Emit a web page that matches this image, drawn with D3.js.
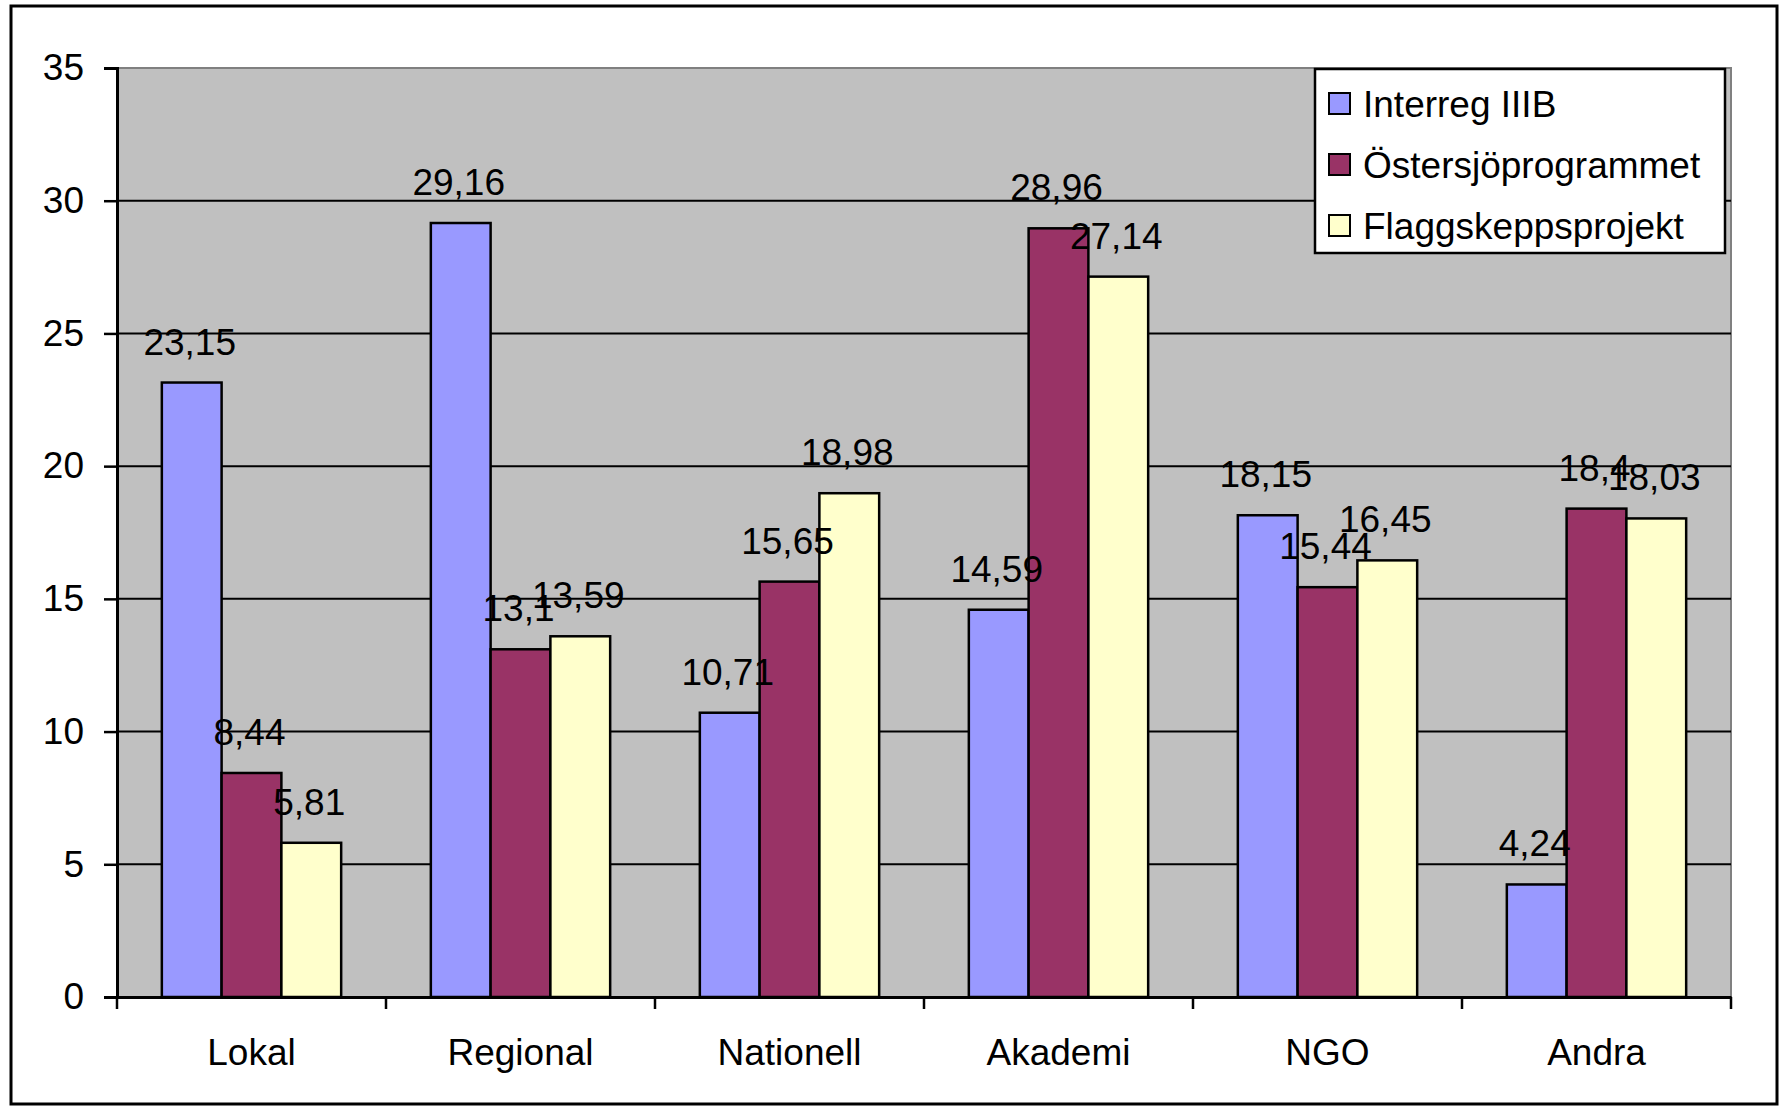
<!DOCTYPE html>
<html>
<head>
<meta charset="utf-8">
<script src="https://cdn.jsdelivr.net/npm/d3@7"></script>
<style>
  body { margin: 0; background: #fff; }
  text { font-family: "Liberation Sans", Arial, sans-serif; fill: #000; }
</style>
</head>
<body>
<div id="chart"></div>
<script>
const categories = ["Lokal", "Regional", "Nationell", "Akademi", "NGO", "Andra"];
const seriesNames = ["Interreg IIIB", "Östersjöprogrammet", "Flaggskeppsprojekt"];
const interreg = [23.15, 29.16, 10.71, 14.59, 18.15, 4.24];
const ostersjo = [8.44, 13.1, 15.65, 28.96, 15.44, 18.4];
const flaggskepp = [5.81, 13.59, 18.98, 27.14, 16.45, 18.03];
const yTicks = [0, 5, 10, 15, 20, 25, 30, 35];
const colors = ["#9999ff", "#993366", "#ffffcc"];

const series = [interreg, ostersjo, flaggskepp];
const W = 1785, H = 1110;
const plot = { left: 117, right: 1731, top: 68, bottom: 997 };
const fontSize = 37;
const fmt = (v) => String(v).replace(".", ",");

const svg = d3.select("#chart").append("svg")
  .attr("width", W).attr("height", H);

// outer frame
svg.append("rect")
  .attr("x", 11).attr("y", 6).attr("width", 1766).attr("height", 1098)
  .attr("fill", "#fff").attr("stroke", "#000").attr("stroke-width", 3);

const x = d3.scaleBand().domain(categories).range([plot.left, plot.right]);
const inner = d3.scaleBand().domain(d3.range(3))
  .range([0, x.bandwidth()]).paddingInner(0).paddingOuter(0.75);
const y = d3.scaleLinear().domain([0, 35]).range([plot.bottom, plot.top]);

// plot background
svg.append("rect")
  .attr("x", plot.left).attr("y", plot.top)
  .attr("width", plot.right - plot.left).attr("height", plot.bottom - plot.top)
  .attr("fill", "#c0c0c0").attr("stroke", "#808080").attr("stroke-width", 2);

// gridlines
svg.append("g").selectAll("line")
  .data(yTicks.filter((t) => t > 0 && t < 35))
  .enter().append("line")
  .attr("x1", plot.left).attr("x2", plot.right)
  .attr("y1", (d) => y(d)).attr("y2", (d) => y(d))
  .attr("stroke", "#000").attr("stroke-width", 2);

// bars
const groups = svg.append("g").selectAll("g")
  .data(categories)
  .enter().append("g")
  .attr("transform", (d) => `translate(${x(d)},0)`);

groups.selectAll("rect")
  .data((d, i) => series.map((s, k) => ({ k, v: s[i] })))
  .enter().append("rect")
  .attr("x", (d) => inner(d.k))
  .attr("width", inner.bandwidth())
  .attr("y", (d) => y(d.v))
  .attr("height", (d) => y(0) - y(d.v))
  .attr("fill", (d) => colors[d.k])
  .attr("stroke", "#000").attr("stroke-width", 2.5);

// data labels
groups.selectAll("text")
  .data((d, i) => series.map((s, k) => ({ k, v: s[i] })))
  .enter().append("text")
  .attr("x", (d) => inner(d.k) + inner.bandwidth() / 2 - 2)
  .attr("y", (d) => y(d.v) - 28)
  .attr("text-anchor", "middle")
  .attr("font-size", fontSize)
  .text((d) => fmt(d.v));

// y axis
const yAxis = svg.append("g")
  .attr("transform", `translate(${plot.left},0)`)
  .call(d3.axisLeft(y).tickValues(yTicks).tickSize(13).tickPadding(20));
yAxis.select(".domain").attr("stroke", "#000").attr("stroke-width", 3);
yAxis.selectAll(".tick line").attr("stroke", "#000").attr("stroke-width", 2.5);
yAxis.selectAll("text").attr("font-size", fontSize)
  .style("font-family", "'Liberation Sans', Arial, sans-serif").attr("fill", "#000");

// x axis
const xAxis = svg.append("g")
  .attr("transform", `translate(0,${plot.bottom})`)
  .call(d3.axisBottom(x).tickSize(0).tickPadding(42).tickSizeOuter(0));
xAxis.select(".domain").attr("stroke", "#000").attr("stroke-width", 3);
xAxis.selectAll("text").attr("font-size", fontSize)
  .style("font-family", "'Liberation Sans', Arial, sans-serif").attr("fill", "#000");
xAxis.append("g").selectAll("line")
  .data(categories.map((c) => x(c)).concat([plot.right]))
  .enter().append("line")
  .attr("x1", (d) => d).attr("x2", (d) => d)
  .attr("y1", 0).attr("y2", 12)
  .attr("stroke", "#000").attr("stroke-width", 2.5);

// legend
const legend = svg.append("g").attr("transform", "translate(1315,69)");
legend.append("rect")
  .attr("width", 410).attr("height", 184)
  .attr("fill", "#fff").attr("stroke", "#000").attr("stroke-width", 2.5);
const rows = legend.selectAll("g.row")
  .data(seriesNames)
  .enter().append("g")
  .attr("class", "row")
  .attr("transform", (d, i) => `translate(0,${35 + i * 61})`);
rows.append("rect")
  .attr("x", 14).attr("y", -11).attr("width", 21).attr("height", 21)
  .attr("fill", (d, i) => colors[i])
  .attr("stroke", "#000").attr("stroke-width", 2);
rows.append("text")
  .attr("x", 48).attr("y", 0).attr("dy", "0.35em")
  .attr("font-size", fontSize)
  .text((d) => d);
</script>
</body>
</html>
